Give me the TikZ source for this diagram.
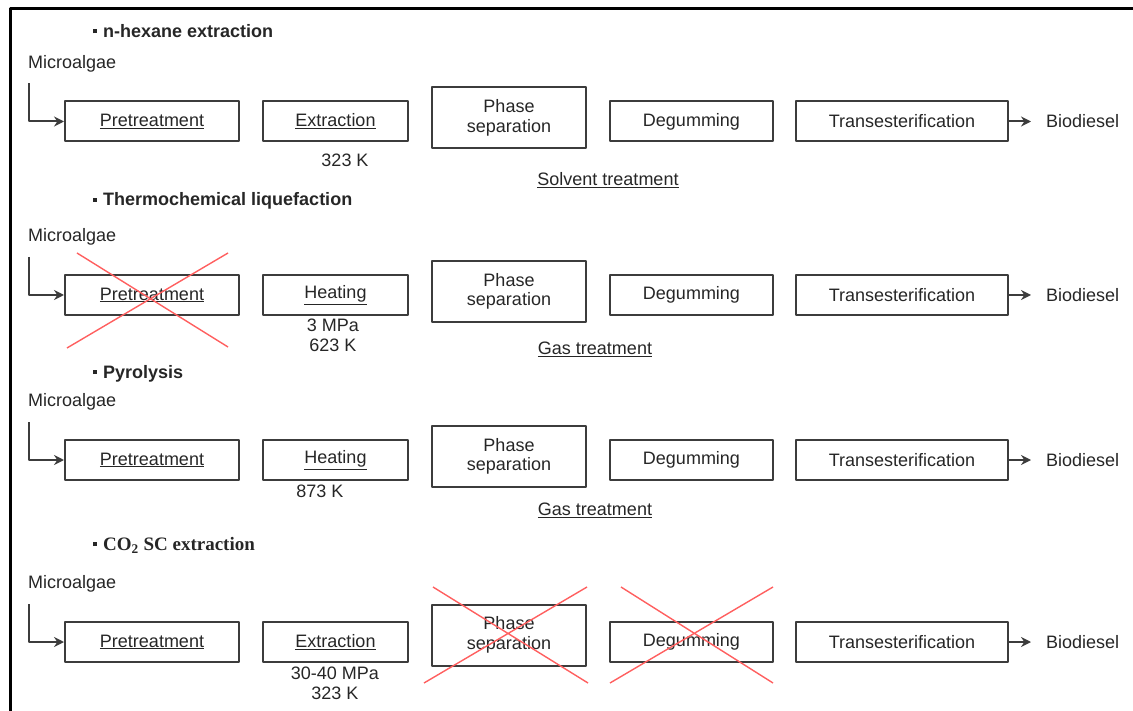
\documentclass[tikz,border=0pt]{standalone}
\usepackage{fontspec}
\setmainfont{Liberation Sans}
\newfontfamily\serifbf{Liberation Serif}
\usetikzlibrary{arrows.meta}
\definecolor{boxgray}{RGB}{60,60,60}
\definecolor{crossred}{RGB}{255,95,95}
\newcommand{\sqbullet}{\raisebox{4pt}{\rule{4pt}{4pt}}\hspace{6pt}}
\begin{document}
\begin{tikzpicture}[x=1pt, y=-1pt, font=\fontsize{18}{19.5}\selectfont, line join=round, text=black!85,
  stepbox/.style={draw=boxgray, line width=2pt, inner sep=0pt, minimum height=40pt, align=center},
  plain/.style={inner sep=0pt, align=center},
  head/.style={inner sep=0pt, anchor=west, font=\fontsize{18}{20}\selectfont\bfseries},
  flow/.style={draw=boxgray, line width=2pt, -{Stealth[length=10pt,width=10pt]}},
  cross/.style={draw=crossred, line width=1.4pt}]
\useasboundingbox (0,0) rectangle (1133,711);
% frame
\draw[line width=3pt] (10,720) -- (10,8.5) -- (1140,8.5);
% the four process rows
\foreach \r/\y/\py/\midtext in {1/121.5/118/Extraction, 2/295/291.5/Heating, 3/460/456.5/Heating, 4/642/635/Extraction}{
  \node[plain, anchor=west] (mic\r) at (28,\y-58) {Microalgae};
  \node[stepbox, minimum width=174pt] (pre\r) at (152,\y) {\underline{Pretreatment}};
  \node[stepbox, minimum width=145pt] (mid\r) at (335.5,\y) {\underline{\midtext}};
  \node[stepbox, minimum width=154pt, minimum height=61pt] (pha\r) at (509,\py) {Phase\\separation};
  \node[stepbox, minimum width=163pt] (deg\r) at (691.5,\y) {Degumming};
  \node[stepbox, minimum width=212pt] (tra\r) at (902,\y) {Transesterification};
  \node[plain, anchor=west] (bio\r) at (1046,\y) {Biodiesel};
  \coordinate (in\r) at (29,\y-38);
  \draw[flow] (in\r) |- (pre\r);
  \draw[flow, shorten >=15pt] (tra\r) -- (bio\r);
}
% headings
\node[head] (head1) at (93,31) {\sqbullet n-hexane extraction};
\node[head] (head2) at (93,201) {\sqbullet Thermochemical liquefaction};
\node[head] (head3) at (93,373.5) {\sqbullet Pyrolysis};
\node[head, font=\fontsize{19}{20}\selectfont\serifbf\bfseries] (head4) at (93,545) {\sqbullet CO\textsubscript{2} SC extraction};
% conditions
\node[plain] (cond1) at (345,160) {323 K};
\node[plain] (cond2) at (333,335.5) {3 MPa\\623 K};
\node[plain] (cond3) at (320,491) {873 K};
\node[plain] (cond4) at (335,683.5) {30-40 MPa\\323 K};
\node[plain] (treat1) at (608,180) {\underline{Solvent treatment}};
\node[plain] (treat2) at (595,349) {\underline{Gas treatment}};
\node[plain] (treat3) at (595,510) {\underline{Gas treatment}};
% skipped steps
\draw[cross] (77,253) -- (228,347) (228,253) -- (67,348);
\draw[cross] (433,587) -- (588,683) (587,587) -- (424,683);
\draw[cross] (621,587) -- (773,683) (773,587) -- (610,683);
\end{tikzpicture}
\end{document}
